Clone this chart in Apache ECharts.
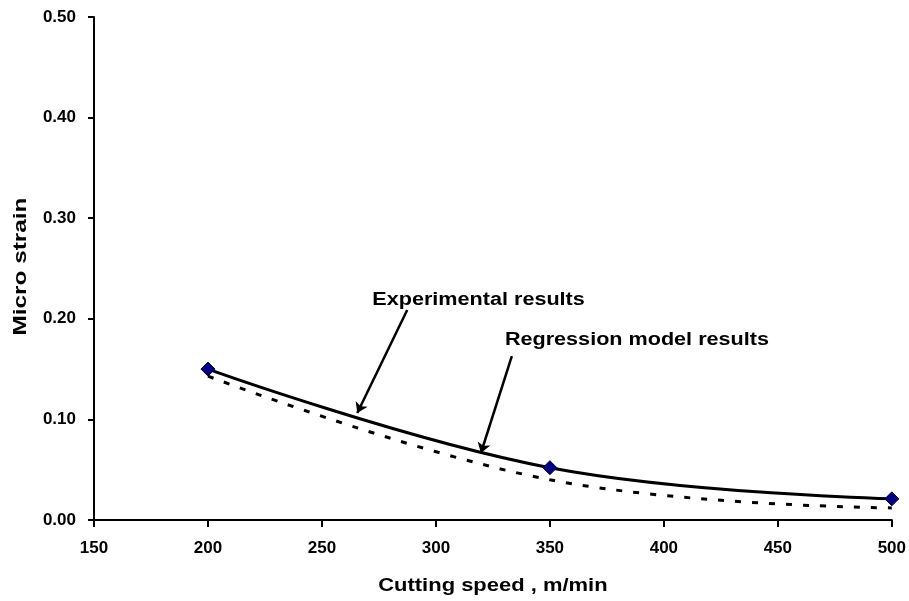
<!DOCTYPE html>
<html>
<head>
<meta charset="utf-8">
<script src="https://cdn.jsdelivr.net/npm/echarts@6/dist/echarts.min.js"></script>
<style>
  html, body { margin: 0; padding: 0; background: #ffffff; }
  #chart { width: 909px; height: 601px; }
</style>
</head>
<body>
<div id="chart"></div>
<script>
// Cutting speed (m/min) and measured / modelled micro strain
const cuttingSpeed = [200, 350, 500];
const experimental = [0.150, 0.052, 0.021];
const regression = [0.143, 0.040, 0.012];

// Axis ranges
const xRange = { min: 150, max: 500, step: 50 };
const yRange = { min: 0, max: 0.5, step: 0.1 };

// Axis titles
const xTitle = 'Cutting speed , m/min';
const yTitle = 'Micro strain';

// Callout labels with arrows pointing at the curves (data coordinates)
const noteLabels = ['Experimental results', 'Regression model results'];
const noteTextAt = [[272.1, 0.2187], [330.25, 0.179]];
const noteArrowFrom = [[287.4, 0.2087], [333.3, 0.163]];
const noteArrowTo = [[265.5, 0.1064], [319.75, 0.0666]];

const FONT = '"Liberation Sans", Arial, sans-serif';

const chart = echarts.init(document.getElementById('chart'), null, { renderer: 'canvas' });

const pairs = (ys) => cuttingSpeed.map((x, i) => [x, ys[i]]);

chart.setOption({
  backgroundColor: '#ffffff',
  animation: false,
  grid: { left: 94, right: 15, top: 17, bottom: 81, containLabel: false },
  xAxis: {
    type: 'value',
    min: xRange.min, max: xRange.max, interval: xRange.step,
    axisLine: { lineStyle: { color: '#000', width: 2 } },
    axisTick: { show: true, inside: false, length: 7, lineStyle: { color: '#000', width: 2 } },
    axisLabel: { color: '#000', fontFamily: FONT, fontWeight: 'bold', fontSize: 17, margin: 20 },
    splitLine: { show: false }
  },
  yAxis: {
    type: 'value',
    min: yRange.min, max: yRange.max, interval: yRange.step,
    axisLine: { show: true, lineStyle: { color: '#000', width: 2 } },
    axisTick: { show: true, inside: false, length: 6, lineStyle: { color: '#000', width: 2 } },
    axisLabel: {
      color: '#000', fontFamily: FONT, fontWeight: 'bold', fontSize: 17, margin: 18,
      formatter: (v) => v.toFixed(2)
    },
    splitLine: { show: false }
  },
  series: [
    {
      name: 'Regression model results',
      type: 'line',
      data: pairs(regression),
      smooth: 0.4,
      showSymbol: false,
      symbol: 'none',
      lineStyle: { color: '#000', width: 3, type: [6, 11] },
      z: 2
    },
    {
      name: 'Experimental results',
      type: 'line',
      data: pairs(experimental),
      smooth: 0.4,
      symbol: 'diamond',
      symbolSize: 14,
      itemStyle: { color: '#000080', borderColor: '#000040', borderWidth: 1 },
      lineStyle: { color: '#000', width: 3 },
      z: 3,
      markLine: {
        silent: true,
        symbol: ['none', 'arrow'],
        symbolSize: 10,
        label: { show: false },
        lineStyle: { color: '#000', width: 2.5, type: 'solid' },
        data: noteArrowFrom.map((from, i) => [{ coord: from }, { coord: noteArrowTo[i] }])
      }
    }
  ]
});

// Callout texts and axis titles, placed from axis coordinates
function px(pt) { return chart.convertToPixel({ gridIndex: 0 }, pt); }

const graphics = noteLabels.map((text, i) => {
  const p = px(noteTextAt[i]);
  return {
    type: 'text', x: p[0], y: p[1], scaleX: 1.2, silent: true,
    style: { text, fill: '#000', font: 'bold 18px ' + FONT, textAlign: 'left', textVerticalAlign: 'middle' }
  };
});

const xMid = px([(xRange.min + xRange.max) / 2, yRange.min]);
graphics.push({
  type: 'text', x: xMid[0], y: xMid[1] + 66, scaleX: 1.22, silent: true,
  style: { text: xTitle, fill: '#000', font: 'bold 18px ' + FONT, textAlign: 'center', textVerticalAlign: 'middle' }
});

const yMid = px([xRange.min, (yRange.min + yRange.max) / 2]);
graphics.push({
  type: 'text', x: 21, y: yMid[1] - 2, rotation: Math.PI / 2, scaleX: 1.28, silent: true,
  style: { text: yTitle, fill: '#000', font: 'bold 19px ' + FONT, textAlign: 'center', textVerticalAlign: 'middle' }
});

chart.setOption({ graphic: graphics });
</script>
</body>
</html>
